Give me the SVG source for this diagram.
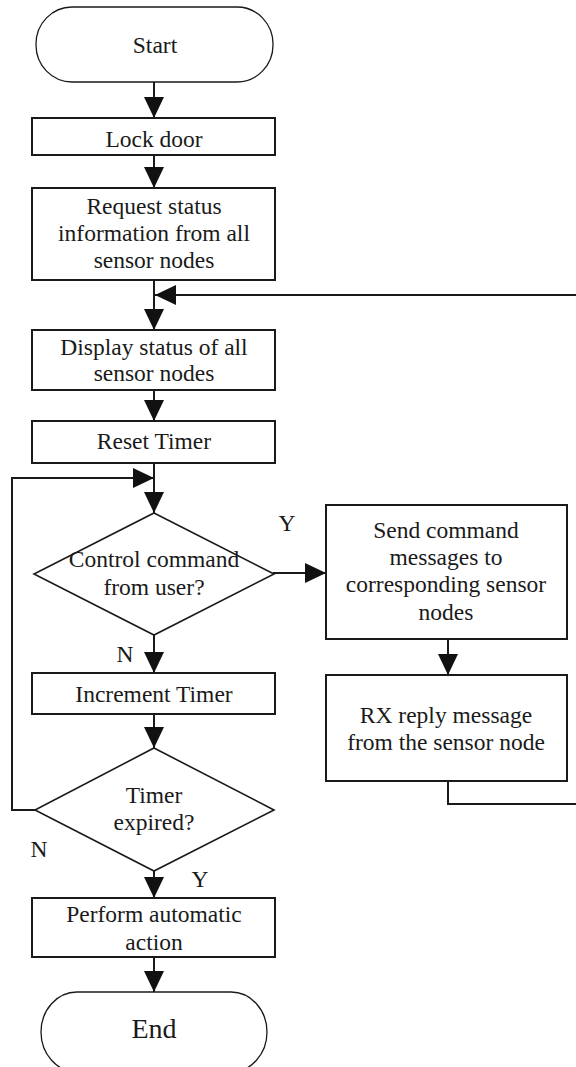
<svg xmlns="http://www.w3.org/2000/svg" width="576" height="1067" viewBox="0 0 576 1067">
<style>
text{font-family:"Liberation Serif","Times New Roman",serif;font-size:23.5px;fill:#1a1a1a;text-anchor:middle}
.box{fill:#fff;stroke:#1a1a1a;stroke-width:2}
.dia{fill:#fff;stroke:#1a1a1a;stroke-width:1.6}
.term{fill:#fff;stroke:#1a1a1a;stroke-width:1.3}
.con{fill:none;stroke:#1a1a1a;stroke-width:2}
.lbl{text-anchor:middle}
</style>
<defs>
<marker id="ah" markerUnits="userSpaceOnUse" markerWidth="22" markerHeight="22" refX="21" refY="10" orient="auto">
<path d="M0,0 L21,10 L0,20 Z" fill="#111"/>
</marker>
</defs>
<rect width="576" height="1067" fill="#fff"/>
<g id="connectors">
<path class="con" d="M154,82 V118" marker-end="url(#ah)"/>
<path class="con" d="M154,155 V188" marker-end="url(#ah)"/>
<path class="con" d="M154,280 V330" marker-end="url(#ah)"/>
<path class="con" d="M576,295 H155" marker-end="url(#ah)"/>
<path class="con" d="M154,390 V421" marker-end="url(#ah)"/>
<path class="con" d="M154,463 V513" marker-end="url(#ah)"/>
<path class="con" d="M35,810 H12 V478 H154" marker-end="url(#ah)"/>
<path class="con" d="M273,573 H326" stroke="#666" marker-end="url(#ah)"/>
<path class="con" d="M154,635 V673" marker-end="url(#ah)"/>
<path class="con" d="M448,639 V675" marker-end="url(#ah)"/>
<path class="con" d="M448,781 V804 H576"/>
<path class="con" d="M154,714 V748" marker-end="url(#ah)"/>
<path class="con" d="M154,871 V898" marker-end="url(#ah)"/>
<path class="con" d="M154,957 V992" marker-end="url(#ah)"/>
</g>
<g id="start">
<rect class="term" x="36" y="7" width="237" height="75" rx="36" ry="37"/>
<text x="155" y="53">Start</text>
</g>
<g id="lock">
<rect class="box" x="32" y="118" width="243" height="37"/>
<text x="154" y="147">Lock door</text>
</g>
<g id="request">
<rect class="box" x="32" y="188" width="243" height="92"/>
<text x="154" y="214">Request status</text>
<text x="154" y="241">information from all</text>
<text x="154" y="268">sensor nodes</text>
</g>
<g id="display">
<rect class="box" x="32" y="330" width="243" height="60"/>
<text x="154" y="355">Display status of all</text>
<text x="154" y="381">sensor nodes</text>
</g>
<g id="reset">
<rect class="box" x="32" y="421" width="243" height="42"/>
<text x="154" y="449">Reset Timer</text>
</g>
<g id="control">
<polygon class="dia" points="154,513 274,574 154,635 34,574"/>
<text x="154" y="567">Control command</text>
<text x="154" y="595">from user?</text>
</g>
<g id="send">
<rect class="box" x="326" y="505" width="241" height="134"/>
<text x="446" y="538">Send command</text>
<text x="446" y="565">messages to</text>
<text x="446" y="592">corresponding sensor</text>
<text x="446" y="620">nodes</text>
</g>
<g id="rx">
<rect class="box" x="326" y="675" width="241" height="106"/>
<text x="446" y="723">RX reply message</text>
<text x="446" y="750">from the sensor node</text>
</g>
<g id="increment">
<rect class="box" x="32" y="673" width="243" height="41"/>
<text x="154" y="702">Increment Timer</text>
</g>
<g id="expired">
<polygon class="dia" points="154,748 274,810 154,871 35,810"/>
<text x="154" y="803">Timer</text>
<text x="154" y="830">expired?</text>
</g>
<g id="perform">
<rect class="box" x="32" y="898" width="243" height="59"/>
<text x="154" y="922">Perform automatic</text>
<text x="154" y="950">action</text>
</g>
<g id="end">
<rect class="term" x="41" y="992" width="226" height="80" rx="36" ry="40"/>
<text x="154" y="1038" style="font-size:28px">End</text>
</g>
<g id="labels">
<text x="287" y="531">Y</text>
<text x="125" y="662">N</text>
<text x="39" y="857">N</text>
<text x="200" y="887">Y</text>
</g>
</svg>
